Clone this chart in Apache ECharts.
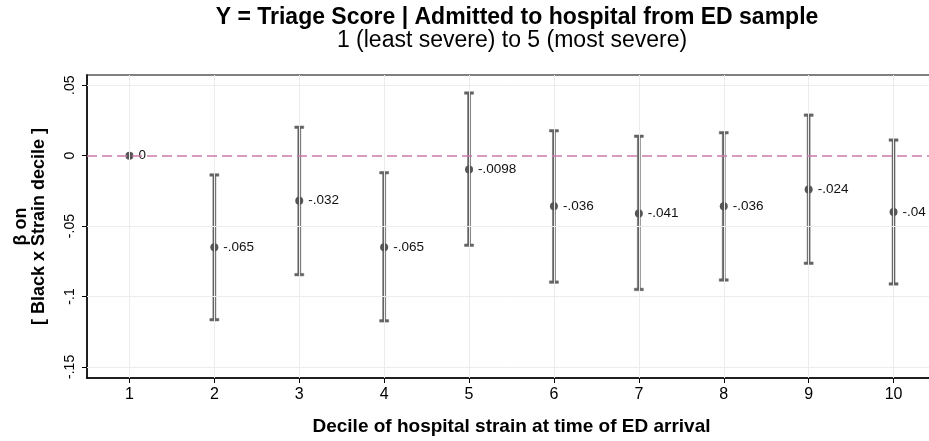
<!DOCTYPE html>
<html>
<head>
<meta charset="utf-8">
<script src="https://cdn.jsdelivr.net/npm/echarts@6/dist/echarts.min.js"></script>
<style>
  html, body { margin: 0; padding: 0; background: #fff; overflow: hidden; }
  /* the plot region runs a little past the right edge of the window */
  #chart { width: 940px; height: 441px; }
</style>
</head>
<body>
<div id="chart"></div>
<script>
// Deciles of hospital strain at time of ED arrival
const deciles = ['1', '2', '3', '4', '5', '6', '7', '8', '9', '10'];
// Point estimates (β on Black x Strain decile); decile 1 is the reference
const estimates = [0, -0.065, -0.032, -0.065, -0.0098, -0.036, -0.041, -0.036, -0.024, -0.04];
// 95% confidence interval bounds (none for the reference decile)
const ciLow  = [null, -0.1165, -0.0845, -0.1173, -0.0636, -0.0898, -0.0950, -0.0883, -0.0764, -0.0911];
const ciHigh = [null, -0.0137,  0.0202, -0.0121,  0.0445,  0.0177,  0.0138,  0.0163,  0.0288,  0.0111];
// Y axis tick values
const yTicks = [-0.15, -0.1, -0.05, 0, 0.05];

const FONT = '"Liberation Sans", Arial, Helvetica, sans-serif';

// Stata-style number format: drop the leading zero (-0.065 -> -.065)
function fmt(v) {
  if (v === 0) return '0';
  return String(v).replace('0.', '.');
}

const ciData = [];
deciles.forEach(function (d, i) {
  if (ciLow[i] !== null) ciData.push([i, ciLow[i], ciHigh[i]]);
});

const chart = echarts.init(document.getElementById('chart'), null, { renderer: 'canvas' });

const gridLineStyle = { color: '#ececec', width: 1, type: 'solid' };

chart.setOption({
  animation: false,
  backgroundColor: '#ffffff',
  textStyle: { fontFamily: FONT },
  graphic: [
    {
      type: 'text', x: 517, y: 18,
      style: {
        text: 'Y = Triage Score | Admitted to hospital from ED sample',
        fontFamily: FONT, fontSize: 23, fontWeight: 'bold', fill: '#000',
        align: 'center', verticalAlign: 'middle'
      }
    },
    {
      type: 'text', x: 512, y: 41,
      style: {
        text: '1 (least severe) to 5 (most severe)',
        fontFamily: FONT, fontSize: 23, fill: '#000',
        align: 'center', verticalAlign: 'middle'
      }
    }
  ],
  grid: {
    left: 87, top: 75, width: 849, height: 303,
    show: true, borderColor: '#808080', borderWidth: 2, backgroundColor: 'transparent'
  },
  xAxis: {
    type: 'category',
    data: deciles,
    boundaryGap: true,
    name: 'Decile of hospital strain at time of ED arrival',
    nameLocation: 'middle',
    nameGap: 39,
    nameTextStyle: { fontFamily: FONT, fontSize: 19, fontWeight: 'bold', color: '#000' },
    axisLine: { show: true, onZero: false, lineStyle: { color: '#000', width: 1.5 } },
    axisTick: { show: true, alignWithLabel: true, length: 5, lineStyle: { color: '#000', width: 1 } },
    axisLabel: { fontFamily: FONT, fontSize: 16, color: '#000', margin: 9 },
    splitLine: { show: false }
  },
  yAxis: {
    type: 'value',
    min: -0.1579,
    max: 0.0573,
    name: 'β on\n[ Black x Strain decile ]',
    nameLocation: 'middle',
    nameRotate: 90,
    nameGap: 39,
    nameTextStyle: { fontFamily: FONT, fontSize: 18, fontWeight: 'bold', color: '#000', lineHeight: 18 },
    axisLine: { show: true, onZero: false, lineStyle: { color: '#000', width: 1.5 } },
    axisTick: { show: true, length: 5, customValues: yTicks, lineStyle: { color: '#000', width: 1 } },
    axisLabel: {
      rotate: 90, fontFamily: FONT, fontSize: 14, color: '#000', margin: 10,
      customValues: yTicks,
      formatter: function (v) { return fmt(Math.round(v * 1000) / 1000); }
    },
    splitLine: { show: false }
  },
  series: [
    {
      // light grid lines at the category centres and y ticks, plus the zero reference line
      type: 'line',
      data: [],
      silent: true,
      markLine: {
        silent: true,
        symbol: 'none',
        label: { show: false },
        data: deciles.map(function (d) { return { xAxis: d, lineStyle: gridLineStyle }; })
          .concat(yTicks.filter(function (t) { return t !== 0; })
            .map(function (t) { return { yAxis: t, lineStyle: gridLineStyle }; }))
          .concat([{ yAxis: 0, lineStyle: { color: '#cc7aa8', width: 1.5, type: [10, 5] } }])
      },
      z: 1
    },
    {
      // confidence interval bars with caps
      type: 'custom',
      data: ciData,
      z: 3,
      renderItem: function (params, api) {
        const x = api.value(0);
        const top = api.coord([x, api.value(2)]);
        const bot = api.coord([x, api.value(1)]);
        const cap = 4.5;
        const w = 3;
        const style = { fill: '#646464', stroke: '#646464', lineWidth: 0.5 };
        return {
          type: 'group',
          children: [
            { type: 'rect', shape: { x: top[0] - w / 2, y: top[1], width: w, height: bot[1] - top[1] }, style: style },
            { type: 'rect', shape: { x: top[0] - cap, y: top[1] - 1.25, width: cap * 2, height: 2.5 }, style: style },
            { type: 'rect', shape: { x: bot[0] - cap, y: bot[1] - 1.25, width: cap * 2, height: 2.5 }, style: style }
          ]
        };
      }
    },
    {
      // point estimates with value labels
      type: 'scatter',
      data: estimates.map(function (v, i) { return [i, v]; }),
      symbol: 'circle',
      symbolSize: 8,
      z: 4,
      itemStyle: { color: '#555555', opacity: 1 },
      label: {
        show: true,
        position: 'right',
        distance: 5,
        fontFamily: FONT,
        fontSize: 13.5,
        color: '#111',
        formatter: function (p) { return fmt(p.value[1]); }
      }
    }
  ]
});
</script>
</body>
</html>
